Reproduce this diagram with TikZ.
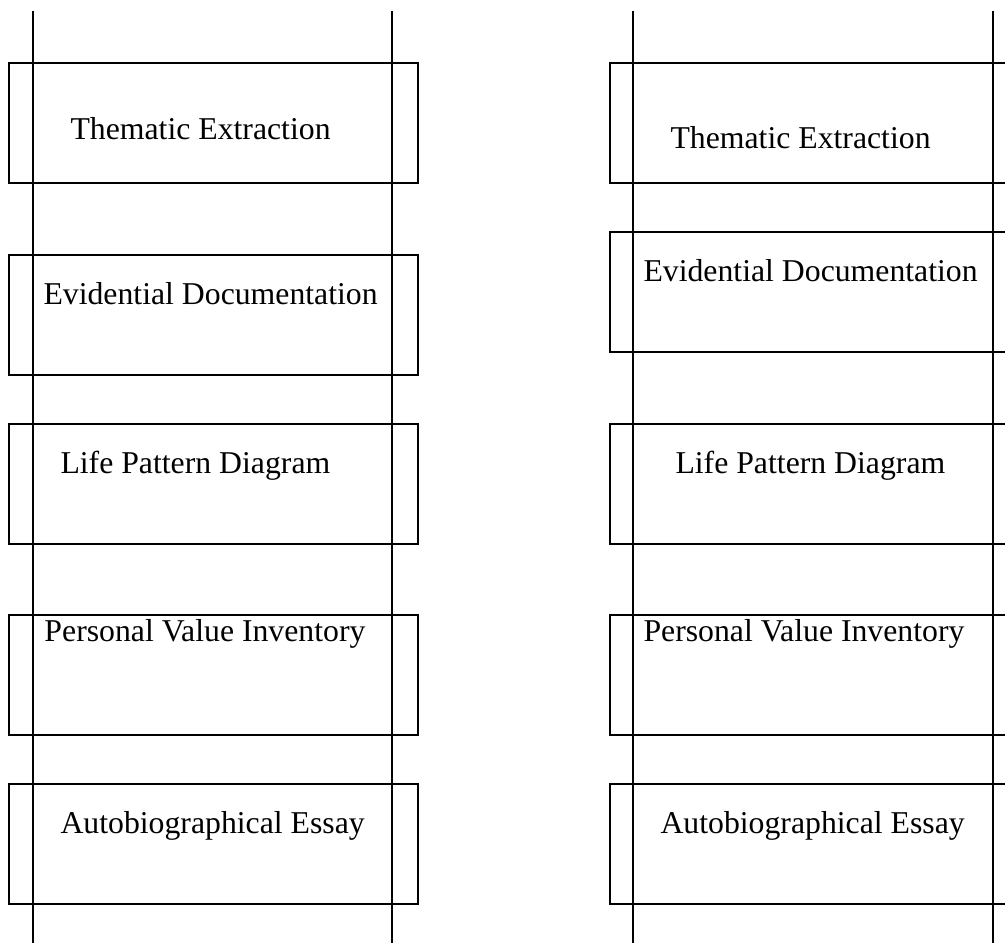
\documentclass[tikz,border=0pt]{standalone}
\usepackage{fontspec}
\setmainfont{Liberation Serif}
\usetikzlibrary{positioning}
\tikzset{
  stagebox/.style={draw,line width=0.75pt,minimum width=163.6pt,minimum height=48pt,inner sep=0pt,anchor=north west},
  stagetext/.style={font=\fontsize{12.7}{15}\selectfont,inner sep=0pt,anchor=base west},
  railline/.style={line width=0.8pt},
}
\begin{document}
\begin{tikzpicture}[x=0.4pt,y=-0.4pt]
\useasboundingbox (0,0) rectangle (1005,943);
\clip (0,0) rectangle (1005,943);
% LEFT column: five stage boxes
\foreach \nm/\y in {thL/62, evL/254, lpL/423, pvL/614, aeL/783} {
  \node[stagebox] (\nm) at (8,\y) {};
}
\node[stagetext] (thLt) at (70,139) {Thematic Extraction};
\node[stagetext] (evLt) at (43,304) {Evidential Documentation};
\node[stagetext] (lpLt) at (60,473) {Life Pattern Diagram};
\node[stagetext] (pvLt) at (44,641) {Personal Value Inventory};
\node[stagetext] (aeLt) at (60,833) {Autobiographical Essay};
% RIGHT column: same stages, cut off at the right edge
\foreach \nm/\y in {thR/62, evR/231, lpR/423, pvR/614, aeR/783} {
  \node[stagebox] (\nm) at (609,\y) {};
}
\node[stagetext] (thRt) at (670,148) {Thematic Extraction};
\node[stagetext] (evRt) at (643,281) {Evidential Documentation};
\node[stagetext] (lpRt) at (675,473) {Life Pattern Diagram};
\node[stagetext] (pvRt) at (643,641) {Personal Value Inventory};
\node[stagetext] (aeRt) at (660,833) {Autobiographical Essay};
% vertical rails through the boxes
\foreach \nm/\x in {La/33, Lb/392, Ra/633, Rb/993} {
  \coordinate (rail\nm top) at (\x,11);
  \coordinate (rail\nm bot) at (\x,943);
  \draw[railline] (rail\nm top) -- (rail\nm bot);
}
\end{tikzpicture}
\end{document}
